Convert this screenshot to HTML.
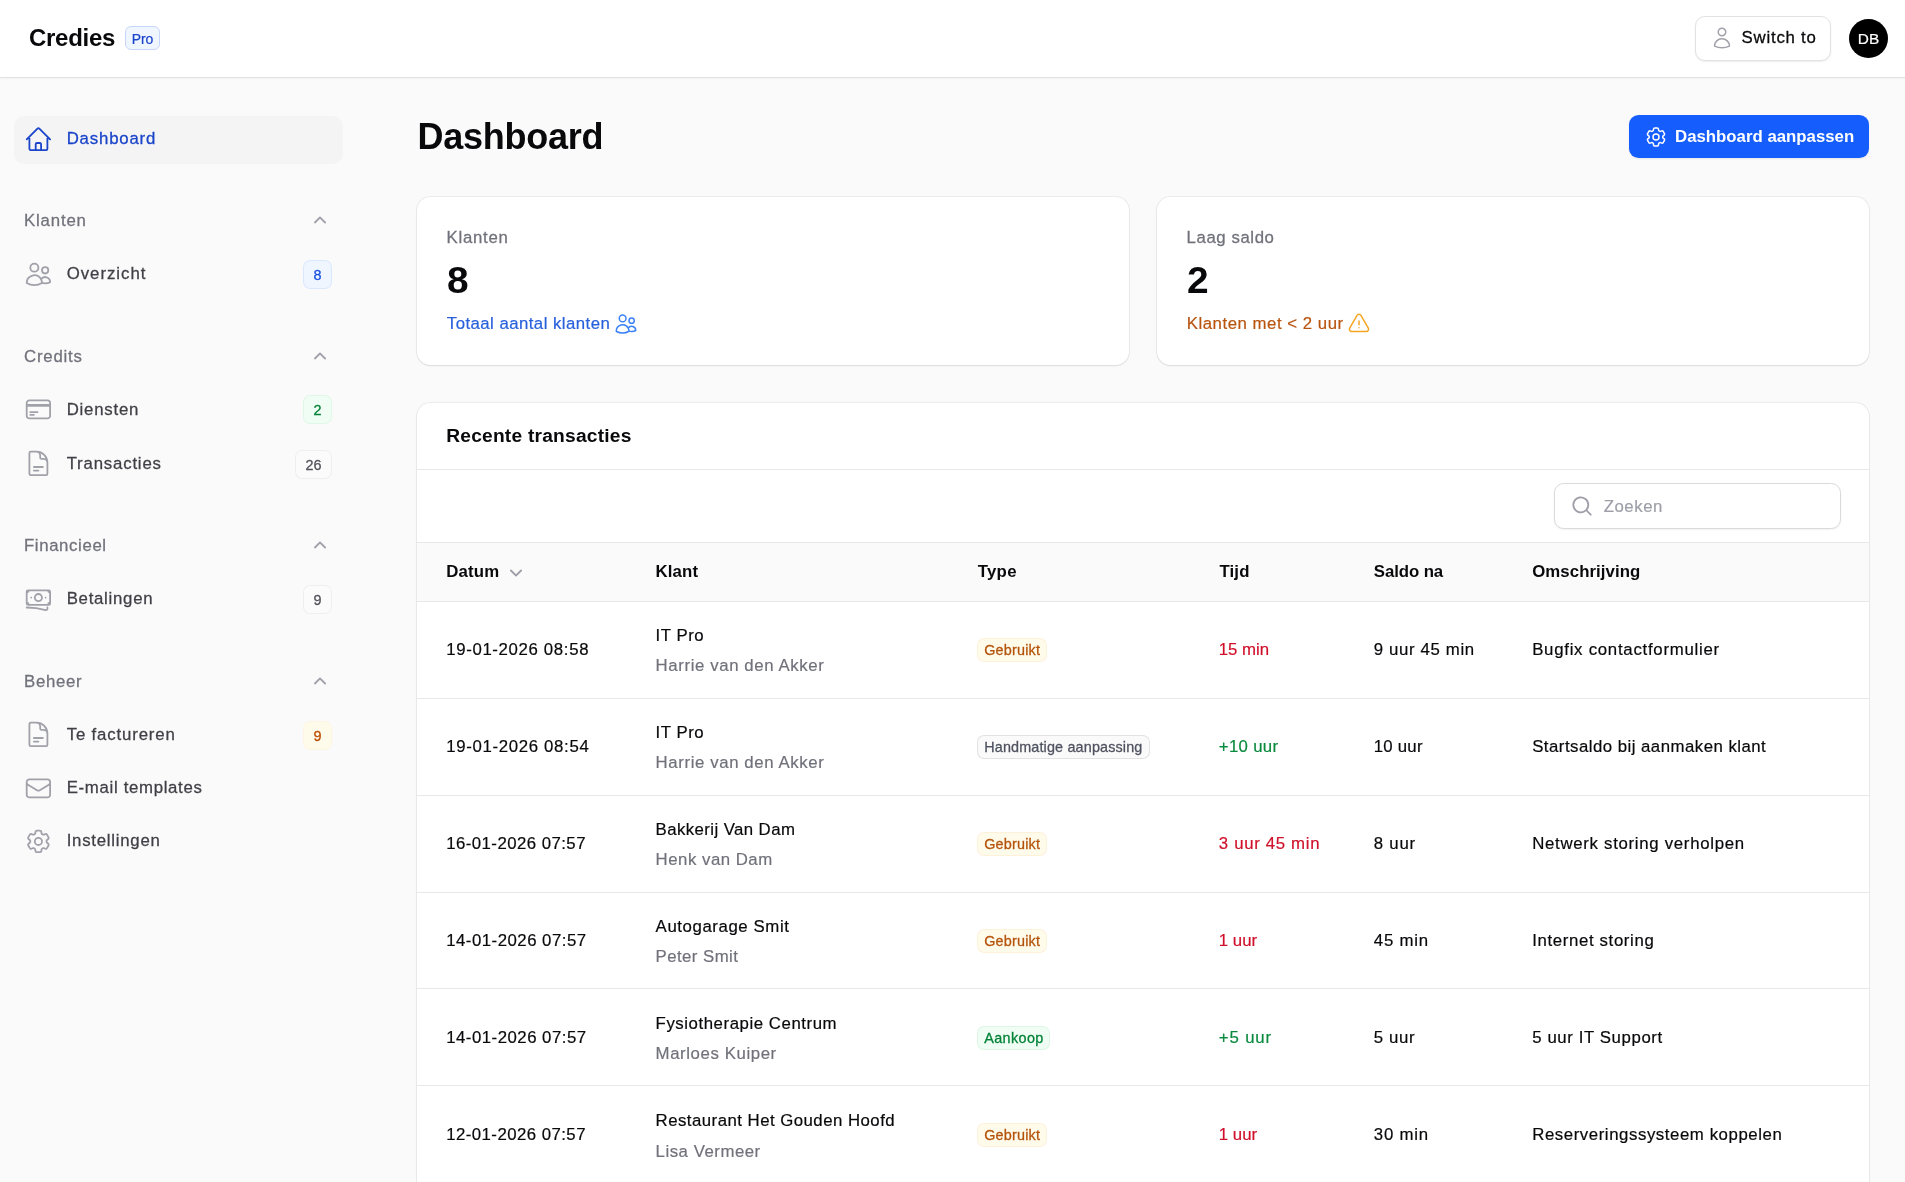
<!DOCTYPE html>
<html lang="nl"><head><meta charset="utf-8"><title>Dashboard - Credies</title>
<style>
*{box-sizing:border-box;margin:0;padding:0}
html,body{width:1905px;height:1182px;overflow:hidden}
body{background:#fafafa;color:#09090b;font-family:"Liberation Sans",sans-serif;font-size:16.8px;line-height:28.8px;position:relative;-webkit-font-smoothing:antialiased}
span{white-space:nowrap}
body{-webkit-text-stroke:0.2px currentColor}
.nav,.switch,.stat .lbl,.bdg,.nb{-webkit-text-stroke:0.28px currentColor}
h1,h2,.th,.btn,.brand,.val{-webkit-text-stroke:0}
.ic{display:block;flex:none}
.topbar,.nav,main{will-change:transform}
.abs{position:absolute}
/* topbar */
.topbar{position:absolute;left:0;top:0;width:1905px;height:77px;background:#fff;box-shadow:0 1px 0 rgba(9,9,11,.07),0 1px 3px rgba(0,0,0,.06)}
.brand{position:absolute;left:29px;top:19px;height:38px;display:flex;align-items:center;font-weight:700;font-size:24px;line-height:38px;color:#09090b}
.pro{position:absolute;left:125px;top:26px;width:35px;height:24px;padding-top:2px;border-radius:6px;background:#eff6ff;border:1px solid #c9d6fb;display:flex;align-items:center;justify-content:center;font-size:14px;line-height:16px;color:#1a44c9}
.switch{position:absolute;left:1695px;top:16px;width:136px;height:45px;border-radius:10px;background:#fff;border:1px solid #e2e2e5;box-shadow:0 1px 2px rgba(0,0,0,.07);display:flex;align-items:center;font-size:16.8px;color:#09090b}
.switch .ic{position:absolute;left:14px;top:8.5px;color:#a1a1aa}
.switch span{position:absolute;left:45.6px;top:7px;line-height:28.8px}
.avatar{position:absolute;left:1849px;top:19px;width:39px;height:39px;border-radius:50%;background:#000;color:#fff;display:flex;align-items:center;justify-content:center;font-size:15.4px;line-height:37.4px}
/* sidebar */
.nav a,.nav .grp{position:absolute;left:14.4px;width:328.6px;height:48px;display:flex;align-items:center;text-decoration:none}
.nav a{padding-left:9.6px;color:#3f3f46;border-radius:10px}
.nav a .ic{color:#a1a1aa;margin-right:14.4px}
.nav a>span:not(.nb){position:relative;left:-0.5px}.nav .grp>span{position:relative;top:0.5px}
.nav a.act{background:#f4f4f5;color:#1a44c9}
.nav a.act .ic{color:#1a44c9}
.nav .grp{padding-left:9.6px;color:#71717b}
.nav .grp .ic{position:absolute;left:293.6px;top:12px;color:#a1a1aa}
.nb{position:absolute;right:11.2px;top:9.6px;min-width:28.8px;height:28.8px;padding:2.2px 10.4px 0;border-radius:7.2px;display:flex;align-items:center;justify-content:center;font-size:14.4px;line-height:19.2px}
.nb.blue{background:#eff6ff;color:#1851e0;box-shadow:inset 0 0 0 1px rgba(21,93,252,.09)}
.nb.green{background:#f0fdf4;color:#008236;box-shadow:inset 0 0 0 1px rgba(0,166,62,.07)}
.nb.gray{background:#fbfbfb;color:#52525c;box-shadow:inset 0 0 0 1px rgba(82,82,92,.07)}
.nb.amber{background:#fffbeb;color:#bb4d00;box-shadow:inset 0 0 0 1px rgba(225,113,0,.04)}

/* main */
h1{position:absolute;left:417.6px;top:113px;font-size:36px;line-height:48px;font-weight:700;letter-spacing:0;color:#09090b;white-space:nowrap}
.btn{position:absolute;left:1629px;top:115px;width:240px;height:43.2px;border-radius:9.6px;background:#155dfc;color:#fff;font-weight:700;box-shadow:0 1px 2px rgba(0,0,0,.08)}
.btn .ic{position:absolute;left:14.6px;top:9.6px}
.btn span{position:absolute;left:46px;top:8.2px;line-height:28.8px}
.card{position:absolute;background:#fff;border-radius:13.4px;box-shadow:0 0 0 1px rgba(9,9,11,.06),0 1px 2px rgba(0,0,0,.08)}
.stat .lbl{position:absolute;left:29.6px;top:27.3px;line-height:28.8px;color:#71717b}
.stat .val{position:absolute;left:29.6px;top:59.6px;transform:scaleX(1.08);transform-origin:left center;font-size:36px;line-height:48px;font-weight:700;color:#09090b}
.stat .desc{position:absolute;left:29.8px;top:113.3px;line-height:28.8px;display:flex;align-items:center}
.stat .desc .ic{margin-left:3.6px;position:relative;top:-0.6px}
.blue-t{color:#2860dc}.blue-i{color:#3b82f6}
.amber-t{color:#b8540f}.amber-i{color:#f5a524}
.tbl{position:absolute;left:417px;top:403px;width:1452px;height:800px;background:#fff;border-radius:13.4px 13.4px 0 0;box-shadow:0 0 0 1px rgba(9,9,11,.06),0 1px 2px rgba(0,0,0,.08);overflow:hidden}
.tbl h2{position:absolute;left:29.2px;top:19px;font-size:19.2px;line-height:28.8px;font-weight:700;color:#09090b;white-space:nowrap}
.hr{position:absolute;left:0;width:1452px;height:1px;background:#e8e8ea}
.search{position:absolute;left:1136.8px;top:80.2px;width:287.4px;height:46px;border-radius:9.6px;background:#fff;border:1px solid #dadadc;box-shadow:0 1px 2px rgba(0,0,0,.05)}
.search .ic{position:absolute;left:15.6px;top:9.6px;color:#9f9fa9}
.search span{position:absolute;left:48.9px;top:9.1px;line-height:28.8px;color:#9f9fa9}
.thead{position:absolute;left:0;top:140px;width:1452px;height:58.6px;background:#fafafa}
.th{position:absolute;top:15.4px;line-height:28.8px;font-weight:700;color:#09090b}
.th .ic{position:absolute;top:1.4px;color:#9f9fa9}
.row{position:absolute;left:0;width:1452px;height:96.8px}
.c{position:absolute;line-height:28.8px;color:#09090b}
.c.mid{top:34.7px}
.c.n1{top:20.4px}
.c.n2{top:50.6px;color:#71717b}
.red{color:#d0112b}.green{color:#0a8a3e}
.bdg{position:absolute;left:560px;top:36.6px;height:24px;border-radius:7.2px;font-size:14.4px;line-height:24px;text-align:center;white-space:nowrap}
.bdg span{position:absolute;left:7.2px;top:0}
.bdg.amber{background:#fffbeb;color:#b4530b;box-shadow:inset 0 0 0 1px rgba(225,113,0,.07)}
.bdg.gray{background:#fafafa;color:#4e525f;box-shadow:inset 0 0 0 1px rgba(82,82,92,.14)}
.bdg.green{background:#f0fdf4;color:#008236;box-shadow:inset 0 0 0 1px rgba(0,166,62,.08)}
</style></head>
<body>
<header class="topbar"><div class="brand"><span id="t1" style="letter-spacing:-0.291px;">Credies</span></div><div class="pro"><span id="t2" style="letter-spacing:-0.098px;">Pro</span></div><div class="switch"><svg class="ic " width="24" height="24" viewBox="0 0 24 24" fill="none" stroke="currentColor" stroke-width="1.5" stroke-linecap="round" stroke-linejoin="round" style=""><path d="M15.75 6a3.75 3.75 0 11-7.5 0 3.75 3.75 0 017.5 0zM4.501 20.118a7.5 7.5 0 0114.998 0A17.933 17.933 0 0112 21.75c-2.676 0-5.216-.584-7.499-1.632z"/></svg><span id="t3" style="letter-spacing:0.776px;">Switch to</span></div><div class="avatar"><span id="t4">DB</span></div></header>
<nav class="nav"><a class="act" href="#" style="top:115.5px"><svg class="ic " width="28.8" height="28.8" viewBox="0 0 24 24" fill="none" stroke="currentColor" stroke-width="1.5" stroke-linecap="round" stroke-linejoin="round" style="position:relative;top:0px"><path d="M2.25 12l8.954-8.955c.44-.439 1.152-.439 1.591 0L21.75 12M4.5 9.75v10.125c0 .621.504 1.125 1.125 1.125H9.75v-4.875c0-.621.504-1.125 1.125-1.125h2.25c.621 0 1.125.504 1.125 1.125V21h4.125c.621 0 1.125-.504 1.125-1.125V9.75M8.25 21h8.25"/></svg><span id="t5" style="letter-spacing:0.824px;top:-0.5px">Dashboard</span></a><div class="grp" style="top:196.7px"><span id="t6" style="letter-spacing:0.830px;">Klanten</span><svg class="ic " width="24" height="24" viewBox="0 0 20 20" fill="currentColor" style=""><path fill-rule="evenodd" clip-rule="evenodd" d="M9.47 6.47a.75.75 0 011.06 0l4.25 4.25a.75.75 0 11-1.06 1.06L10 8.06l-3.72 3.72a.75.75 0 01-1.06-1.06l4.25-4.25z"/></svg></div><a href="#" style="top:249.7px"><svg class="ic " width="28.8" height="28.8" viewBox="0 0 24 24" fill="none" stroke="currentColor" stroke-width="1.5" stroke-linecap="round" stroke-linejoin="round" style="position:relative;top:1px"><path d="M15 19.128a9.38 9.38 0 002.625.372 9.337 9.337 0 004.121-.952 4.125 4.125 0 00-7.533-2.493M15 19.128v-.003c0-1.113-.285-2.16-.786-3.07M15 19.128v.106A12.318 12.318 0 018.624 21c-2.331 0-4.512-.645-6.374-1.766l-.001-.109a6.375 6.375 0 0111.964-3.07M12 6.375a3.375 3.375 0 11-6.75 0 3.375 3.375 0 016.75 0zm8.25 2.25a2.625 2.625 0 11-5.25 0 2.625 2.625 0 015.25 0z"/></svg><span id="t7" style="letter-spacing:0.978px;top:0.5px">Overzicht</span><span class="nb blue" style="top:10.4px">8</span></a><div class="grp" style="top:332.9px"><span id="t8" style="letter-spacing:0.791px;">Credits</span><svg class="ic " width="24" height="24" viewBox="0 0 20 20" fill="currentColor" style=""><path fill-rule="evenodd" clip-rule="evenodd" d="M9.47 6.47a.75.75 0 011.06 0l4.25 4.25a.75.75 0 11-1.06 1.06L10 8.06l-3.72 3.72a.75.75 0 01-1.06-1.06l4.25-4.25z"/></svg></div><a href="#" style="top:385.2px"><svg class="ic " width="28.8" height="28.8" viewBox="0 0 24 24" fill="none" stroke="currentColor" stroke-width="1.5" stroke-linecap="round" stroke-linejoin="round" style="position:relative;top:0px"><path d="M2.25 8.25h19.5M2.25 9h19.5m-16.5 5.25h6m-6 2.25h3m-3.75 3h15a2.25 2.25 0 002.25-2.25V6.75A2.25 2.25 0 0019.5 4.5h-15a2.25 2.25 0 00-2.25 2.25v10.5A2.25 2.25 0 004.5 19.5z"/></svg><span id="t9" style="letter-spacing:0.781px;top:1.3px">Diensten</span><span class="nb green" style="top:10.2px">2</span></a><a href="#" style="top:439.7px"><svg class="ic " width="28.8" height="28.8" viewBox="0 0 24 24" fill="none" stroke="currentColor" stroke-width="1.5" stroke-linecap="round" stroke-linejoin="round" style="position:relative;top:0px"><path d="M19.5 14.25v-2.625a3.375 3.375 0 00-3.375-3.375h-1.5A1.125 1.125 0 0113.5 7.125v-1.5a3.375 3.375 0 00-3.375-3.375H8.25m0 12.75h7.5m-7.5 3H12M10.5 2.25H5.625c-.621 0-1.125.504-1.125 1.125v17.25c0 .621.504 1.125 1.125 1.125h12.75c.621 0 1.125-.504 1.125-1.125V11.25a9 9 0 00-9-9z"/></svg><span id="t10" style="letter-spacing:0.817px;top:0.5px">Transacties</span><span class="nb gray" style="top:10.5px">26</span></a><div class="grp" style="top:522.0px"><span id="t11" style="letter-spacing:0.622px;">Financieel</span><svg class="ic " width="24" height="24" viewBox="0 0 20 20" fill="currentColor" style=""><path fill-rule="evenodd" clip-rule="evenodd" d="M9.47 6.47a.75.75 0 011.06 0l4.25 4.25a.75.75 0 11-1.06 1.06L10 8.06l-3.72 3.72a.75.75 0 01-1.06-1.06l4.25-4.25z"/></svg></div><a href="#" style="top:574.8px"><svg class="ic " width="28.8" height="28.8" viewBox="0 0 24 24" fill="none" stroke="currentColor" stroke-width="1.5" stroke-linecap="round" stroke-linejoin="round" style="position:relative;top:1px"><path d="M2.25 18.75a60.07 60.07 0 0115.797 2.101c.727.198 1.453-.342 1.453-1.096V18.75M3.75 4.5v.75A.75.75 0 013 6h-.75m0 0v-.375c0-.621.504-1.125 1.125-1.125H20.25M2.25 6v9m18-10.5v.75c0 .414.336.75.75.75h.75m-1.5-1.5h.375c.621 0 1.125.504 1.125 1.125v9.75c0 .621-.504 1.125-1.125 1.125h-.375m1.5-1.5H21a.75.75 0 00-.75.75v.75m0 0H3.75m0 0h-.375a1.125 1.125 0 01-1.125-1.125V15m1.5 1.5v-.75A.75.75 0 003 15h-.75M15 10.5a3 3 0 11-6 0 3 3 0 016 0zm3 0h.008v.008H18V10.5zm-12 0h.008v.008H6V10.5z"/></svg><span id="t12" style="letter-spacing:0.732px;top:0.8px">Betalingen</span><span class="nb gray" style="top:10.7px">9</span></a><div class="grp" style="top:658.1px"><span id="t13" style="letter-spacing:0.715px;">Beheer</span><svg class="ic " width="24" height="24" viewBox="0 0 20 20" fill="currentColor" style=""><path fill-rule="evenodd" clip-rule="evenodd" d="M9.47 6.47a.75.75 0 011.06 0l4.25 4.25a.75.75 0 11-1.06 1.06L10 8.06l-3.72 3.72a.75.75 0 01-1.06-1.06l4.25-4.25z"/></svg></div><a href="#" style="top:710.2px"><svg class="ic " width="28.8" height="28.8" viewBox="0 0 24 24" fill="none" stroke="currentColor" stroke-width="1.5" stroke-linecap="round" stroke-linejoin="round" style="position:relative;top:0px"><path d="M19.5 14.25v-2.625a3.375 3.375 0 00-3.375-3.375h-1.5A1.125 1.125 0 0113.5 7.125v-1.5a3.375 3.375 0 00-3.375-3.375H8.25m0 12.75h7.5m-7.5 3H12M10.5 2.25H5.625c-.621 0-1.125.504-1.125 1.125v17.25c0 .621.504 1.125 1.125 1.125h12.75c.621 0 1.125-.504 1.125-1.125V11.25a9 9 0 00-9-9z"/></svg><span id="t14" style="letter-spacing:0.846px;top:1.5px">Te factureren</span><span class="nb amber" style="top:10.6px">9</span></a><a href="#" style="top:763.8px"><svg class="ic " width="28.8" height="28.8" viewBox="0 0 24 24" fill="none" stroke="currentColor" stroke-width="1.5" stroke-linecap="round" stroke-linejoin="round" style="position:relative;top:1px"><path d="M21.75 6.75v10.5a2.25 2.25 0 01-2.25 2.25h-15a2.25 2.25 0 01-2.25-2.25V6.75m19.5 0A2.25 2.25 0 0019.5 4.5h-15a2.25 2.25 0 00-2.25 2.25m19.5 0v.243a2.25 2.25 0 01-1.07 1.916l-7.5 4.615a2.25 2.25 0 01-2.36 0L3.32 8.91a2.25 2.25 0 01-1.07-1.916V6.75"/></svg><span id="t15" style="letter-spacing:0.682px;top:0.5px">E-mail templates</span></a><a href="#" style="top:817.0px"><svg class="ic " width="28.8" height="28.8" viewBox="0 0 24 24" fill="none" stroke="currentColor" stroke-width="1.5" stroke-linecap="round" stroke-linejoin="round" style="position:relative;top:0px"><path d="M9.594 3.94c.09-.542.56-.94 1.11-.94h2.593c.55 0 1.02.398 1.11.94l.213 1.281c.063.374.313.686.645.87.074.04.147.083.22.127.324.196.72.257 1.075.124l1.217-.456a1.125 1.125 0 011.37.49l1.296 2.247a1.125 1.125 0 01-.26 1.431l-1.003.827c-.293.24-.438.613-.431.992a6.759 6.759 0 010 .255c-.007.378.138.75.43.99l1.005.828c.424.35.534.954.26 1.43l-1.298 2.247a1.125 1.125 0 01-1.369.491l-1.217-.456c-.355-.133-.75-.072-1.076.124a6.57 6.57 0 01-.22.128c-.331.183-.581.495-.644.869l-.213 1.28c-.09.543-.56.941-1.11.941h-2.594c-.55 0-1.02-.398-1.11-.94l-.213-1.281c-.062-.374-.312-.686-.644-.87a6.52 6.52 0 01-.22-.127c-.325-.196-.72-.257-1.076-.124l-1.217.456a1.125 1.125 0 01-1.369-.49l-1.297-2.247a1.125 1.125 0 01.26-1.431l1.004-.827c.292-.24.437-.613.43-.992a6.932 6.932 0 010-.255c.007-.378-.138-.75-.43-.99l-1.004-.828a1.125 1.125 0 01-.26-1.43l1.297-2.247a1.125 1.125 0 011.37-.491l1.216.456c.356.133.751.072 1.076-.124.072-.044.146-.087.22-.128.332-.183.582-.495.644-.869l.214-1.281z M15 12a3 3 0 11-6 0 3 3 0 016 0z"/></svg><span id="t16" style="letter-spacing:0.754px;top:0.5px">Instellingen</span></a></nav>
<main><h1><span id="t17" style="letter-spacing:-0.256px;">Dashboard</span></h1><a class="btn" href="#"><svg class="ic " width="24" height="24" viewBox="0 0 24 24" fill="none" stroke="currentColor" stroke-width="1.5" stroke-linecap="round" stroke-linejoin="round" style=""><path d="M9.594 3.94c.09-.542.56-.94 1.11-.94h2.593c.55 0 1.02.398 1.11.94l.213 1.281c.063.374.313.686.645.87.074.04.147.083.22.127.324.196.72.257 1.075.124l1.217-.456a1.125 1.125 0 011.37.49l1.296 2.247a1.125 1.125 0 01-.26 1.431l-1.003.827c-.293.24-.438.613-.431.992a6.759 6.759 0 010 .255c-.007.378.138.75.43.99l1.005.828c.424.35.534.954.26 1.43l-1.298 2.247a1.125 1.125 0 01-1.369.491l-1.217-.456c-.355-.133-.75-.072-1.076.124a6.57 6.57 0 01-.22.128c-.331.183-.581.495-.644.869l-.213 1.28c-.09.543-.56.941-1.11.941h-2.594c-.55 0-1.02-.398-1.11-.94l-.213-1.281c-.062-.374-.312-.686-.644-.87a6.52 6.52 0 01-.22-.127c-.325-.196-.72-.257-1.076-.124l-1.217.456a1.125 1.125 0 01-1.369-.49l-1.297-2.247a1.125 1.125 0 01.26-1.431l1.004-.827c.292-.24.437-.613.43-.992a6.932 6.932 0 010-.255c.007-.378-.138-.75-.43-.99l-1.004-.828a1.125 1.125 0 01-.26-1.43l1.297-2.247a1.125 1.125 0 011.37-.491l1.216.456c.356.133.751.072 1.076-.124.072-.044.146-.087.22-.128.332-.183.582-.495.644-.869l.214-1.281z M15 12a3 3 0 11-6 0 3 3 0 016 0z"/></svg><span id="t18" style="letter-spacing:0.007px;">Dashboard aanpassen</span></a><section class="card stat" style="left:417px;top:197px;width:712px;height:168px"><div class="lbl"><span id="t19" style="letter-spacing:0.730px;">Klanten</span></div><div class="val"><span id="t20">8</span></div><div class="desc blue-t"><span id="t21" style="letter-spacing:0.452px;">Totaal aantal klanten</span><svg class="ic blue-i" width="24" height="24" viewBox="0 0 24 24" fill="none" stroke="currentColor" stroke-width="1.5" stroke-linecap="round" stroke-linejoin="round" style=""><path d="M15 19.128a9.38 9.38 0 002.625.372 9.337 9.337 0 004.121-.952 4.125 4.125 0 00-7.533-2.493M15 19.128v-.003c0-1.113-.285-2.16-.786-3.07M15 19.128v.106A12.318 12.318 0 018.624 21c-2.331 0-4.512-.645-6.374-1.766l-.001-.109a6.375 6.375 0 0111.964-3.07M12 6.375a3.375 3.375 0 11-6.75 0 3.375 3.375 0 016.75 0zm8.25 2.25a2.625 2.625 0 11-5.25 0 2.625 2.625 0 015.25 0z"/></svg></div></section><section class="card stat" style="left:1157px;top:197px;width:712px;height:168px"><div class="lbl"><span id="t22" style="letter-spacing:0.575px;">Laag saldo</span></div><div class="val"><span id="t23">2</span></div><div class="desc amber-t"><span id="t24" style="letter-spacing:0.520px;">Klanten met &lt; 2 uur</span><svg class="ic amber-i" width="24" height="24" viewBox="0 0 24 24" fill="none" stroke="currentColor" stroke-width="1.5" stroke-linecap="round" stroke-linejoin="round" style=""><path d="M12 9v3.75m-9.303 3.376c-.866 1.5.217 3.374 1.948 3.374h14.71c1.73 0 2.813-1.874 1.948-3.374L13.949 3.378c-.866-1.5-3.032-1.5-3.898 0L2.697 16.126zM12 15.75h.007v.008H12v-.008z"/></svg></div></section><section class="tbl"><h2><span id="t25" style="letter-spacing:0.216px;">Recente transacties</span></h2><div class="hr" style="top:66px"></div><div class="search"><svg class="ic " width="24" height="24" viewBox="0 0 20 20" fill="currentColor" style=""><path fill-rule="evenodd" clip-rule="evenodd" d="M9 3.5a5.5 5.5 0 100 11 5.5 5.5 0 000-11zM2 9a7 7 0 1112.452 4.391l3.328 3.329a.75.75 0 11-1.06 1.06l-3.329-3.328A7 7 0 012 9z"/></svg><span id="t26" style="letter-spacing:0.543px;">Zoeken</span></div><div class="hr" style="top:139px"></div><div class="thead"><div class="th" style="left:29.2px"><span id="t27" style="letter-spacing:0.195px;">Datum</span><svg class="ic " width="24" height="24" viewBox="0 0 20 20" fill="currentColor" style="left:57.4px"><path fill-rule="evenodd" clip-rule="evenodd" d="M5.22 8.22a.75.75 0 011.06 0L10 11.94l3.72-3.72a.75.75 0 111.06 1.06l-4.25 4.25a.75.75 0 01-1.06 0L5.22 9.28a.75.75 0 010-1.06z"/></svg></div><div class="th" style="left:238.6px"><span id="t28" style="letter-spacing:0.112px;">Klant</span></div><div class="th" style="left:560.7px"><span id="t29" style="letter-spacing:0.293px;">Type</span></div><div class="th" style="left:802.4px"><span id="t30" style="letter-spacing:0.156px;">Tijd</span></div><div class="th" style="left:956.8px"><span id="t31" style="letter-spacing:-0.077px;">Saldo na</span></div><div class="th" style="left:1115.2px"><span id="t32" style="letter-spacing:0.077px;">Omschrijving</span></div></div><div class="hr" style="top:198.2px"></div><div class="row" style="top:198.6px"><div class="c mid" style="left:29.2px"><span id="t33" style="letter-spacing:0.653px;">19-01-2026 08:58</span></div><div class="c n1" style="left:238.6px"><span id="t34" style="letter-spacing:0.522px;">IT Pro</span></div><div class="c n2" style="left:238.6px;margin-top:0px"><span id="t35" style="letter-spacing:0.610px;">Harrie van den Akker</span></div><div class="bdg amber" style="width:69.7px"><span id="t36" style="letter-spacing:0.201px;">Gebruikt</span></div><div class="c mid red" style="left:801.8px"><span id="t37" style="letter-spacing:-0.015px;">15 min</span></div><div class="c mid" style="left:956.8px"><span id="t38" style="letter-spacing:0.638px;">9 uur 45 min</span></div><div class="c mid" style="left:1115.2px"><span id="t39" style="letter-spacing:0.737px;">Bugfix contactformulier</span></div></div><div class="hr" style="top:295.0px"></div><div class="row" style="top:295.4px"><div class="c mid" style="left:29.2px"><span id="t40" style="letter-spacing:0.673px;">19-01-2026 08:54</span></div><div class="c n1" style="left:238.6px"><span id="t41" style="letter-spacing:0.522px;">IT Pro</span></div><div class="c n2" style="left:238.6px;margin-top:0px"><span id="t42" style="letter-spacing:0.610px;">Harrie van den Akker</span></div><div class="bdg gray" style="width:173.3px"><span id="t43" style="letter-spacing:0.149px;">Handmatige aanpassing</span></div><div class="c mid green" style="left:801.8px"><span id="t44" style="letter-spacing:0.318px;">+10 uur</span></div><div class="c mid" style="left:956.8px"><span id="t45" style="letter-spacing:0.221px;">10 uur</span></div><div class="c mid" style="left:1115.2px"><span id="t46" style="letter-spacing:0.480px;">Startsaldo bij aanmaken klant</span></div></div><div class="hr" style="top:391.8px"></div><div class="row" style="top:392.2px"><div class="c mid" style="left:29.2px"><span id="t47" style="letter-spacing:0.453px;">16-01-2026 07:57</span></div><div class="c n1" style="left:238.6px"><span id="t48" style="letter-spacing:0.416px;">Bakkerij Van Dam</span></div><div class="c n2" style="left:238.6px;margin-top:0px"><span id="t49" style="letter-spacing:0.509px;">Henk van Dam</span></div><div class="bdg amber" style="width:69.7px"><span id="t50" style="letter-spacing:0.201px;">Gebruikt</span></div><div class="c mid red" style="left:801.8px"><span id="t51" style="letter-spacing:0.674px;">3 uur 45 min</span></div><div class="c mid" style="left:956.8px"><span id="t52" style="letter-spacing:0.762px;">8 uur</span></div><div class="c mid" style="left:1115.2px"><span id="t53" style="letter-spacing:0.706px;">Netwerk storing verholpen</span></div></div><div class="hr" style="top:488.6px"></div><div class="row" style="top:489.7px"><div class="c mid" style="left:29.2px"><span id="t54" style="letter-spacing:0.493px;">14-01-2026 07:57</span></div><div class="c n1" style="left:238.6px"><span id="t55" style="letter-spacing:0.593px;">Autogarage Smit</span></div><div class="c n2" style="left:238.6px;margin-top:0px"><span id="t56" style="letter-spacing:0.440px;">Peter Smit</span></div><div class="bdg amber" style="width:69.7px"><span id="t57" style="letter-spacing:0.201px;">Gebruikt</span></div><div class="c mid red" style="left:801.8px"><span id="t58" style="letter-spacing:0.012px;">1 uur</span></div><div class="c mid" style="left:956.8px"><span id="t59" style="letter-spacing:0.785px;">45 min</span></div><div class="c mid" style="left:1115.2px"><span id="t60" style="letter-spacing:0.643px;">Internet storing</span></div></div><div class="hr" style="top:585.4px"></div><div class="row" style="top:586.8px"><div class="c mid" style="left:29.2px"><span id="t61" style="letter-spacing:0.493px;">14-01-2026 07:57</span></div><div class="c n1" style="left:238.6px"><span id="t62" style="letter-spacing:0.562px;">Fysiotherapie Centrum</span></div><div class="c n2" style="left:238.6px;margin-top:0px"><span id="t63" style="letter-spacing:0.595px;">Marloes Kuiper</span></div><div class="bdg green" style="width:72.8px"><span id="t64" style="letter-spacing:0.381px;">Aankoop</span></div><div class="c mid green" style="left:801.8px"><span id="t65" style="letter-spacing:0.847px;">+5 uur</span></div><div class="c mid" style="left:956.8px"><span id="t66" style="letter-spacing:0.662px;">5 uur</span></div><div class="c mid" style="left:1115.2px"><span id="t67" style="letter-spacing:0.602px;">5 uur IT Support</span></div></div><div class="hr" style="top:682.2px"></div><div class="row" style="top:683.6px"><div class="c mid" style="left:29.2px"><span id="t68" style="letter-spacing:0.453px;">12-01-2026 07:57</span></div><div class="c n1" style="left:238.6px"><span id="t69" style="letter-spacing:0.474px;">Restaurant Het Gouden Hoofd</span></div><div class="c n2" style="left:238.6px;margin-top:0.6px"><span id="t70" style="letter-spacing:0.520px;">Lisa Vermeer</span></div><div class="bdg amber" style="width:69.7px"><span id="t71" style="letter-spacing:0.201px;">Gebruikt</span></div><div class="c mid red" style="left:801.8px"><span id="t72" style="letter-spacing:0.012px;">1 uur</span></div><div class="c mid" style="left:956.8px"><span id="t73" style="letter-spacing:0.785px;">30 min</span></div><div class="c mid" style="left:1115.2px"><span id="t74" style="letter-spacing:0.573px;">Reserveringssysteem koppelen</span></div></div></section></main>
</body></html>
